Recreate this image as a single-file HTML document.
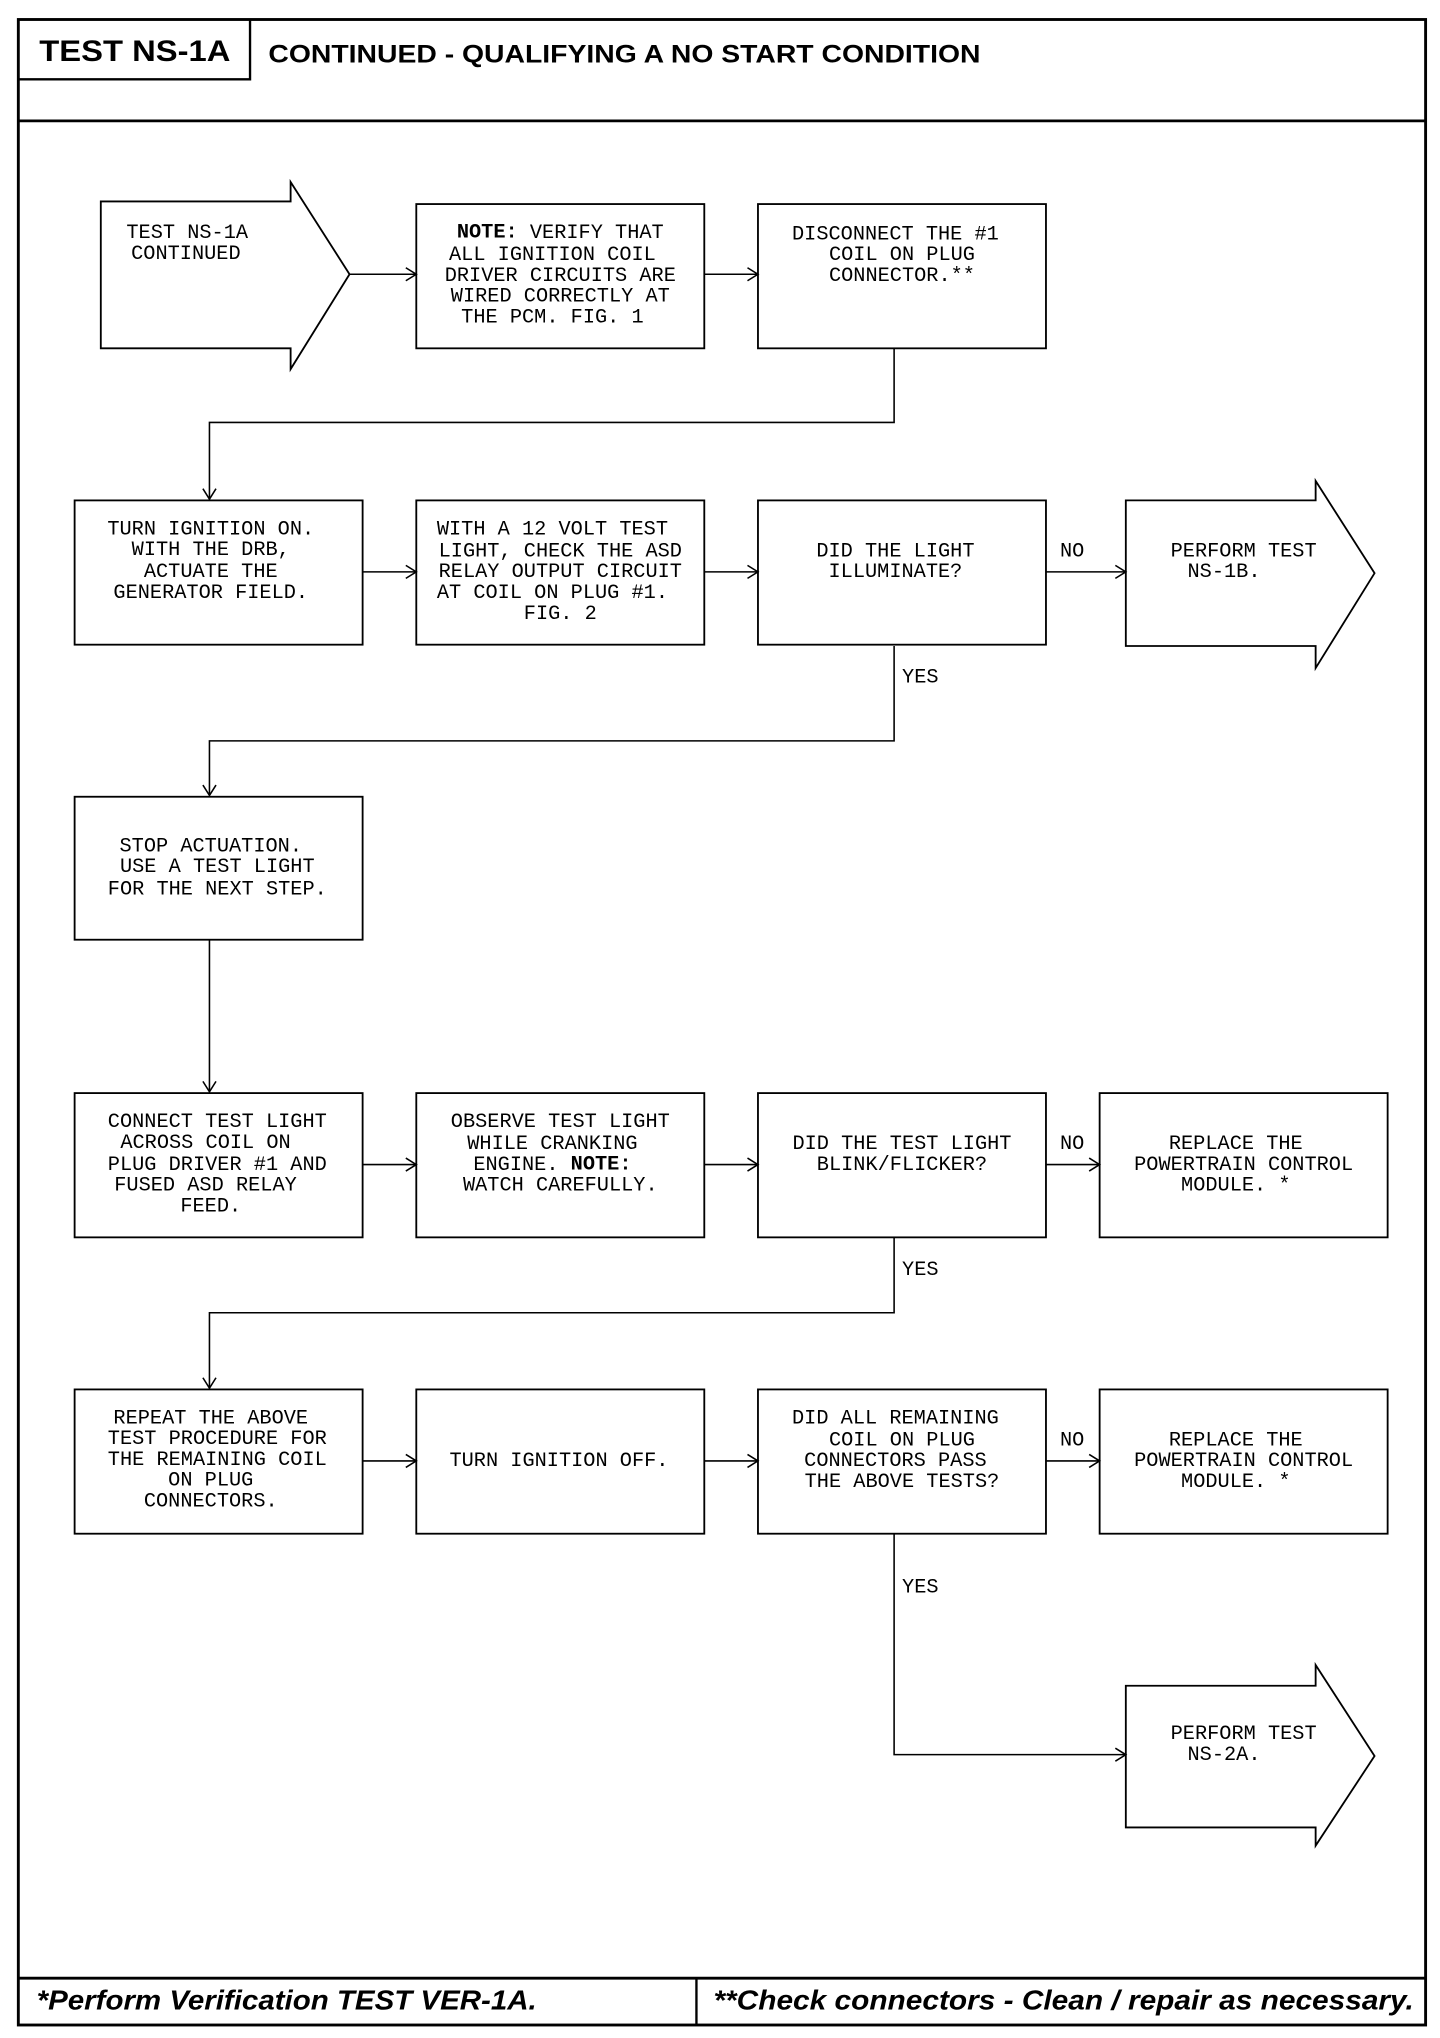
<!DOCTYPE html>
<html><head><meta charset="utf-8"><style>
html,body{margin:0;padding:0;background:#fff;}
svg{display:block;}
.t{font-family:"Liberation Mono","DejaVu Sans Mono",monospace;font-size:15.5px;fill:#000;text-anchor:middle;dominant-baseline:middle;}
.b{fill:none;stroke:#000;stroke-width:1.4;}
.l{fill:none;stroke:#000;stroke-width:1.2;}
</style></head><body>
<svg width="1440" height="2038" viewBox="0 0 1100 1568" preserveAspectRatio="none" xmlns="http://www.w3.org/2000/svg">
<!-- frame -->
<rect x="14" y="15" width="1075" height="1543" fill="none" stroke="#000" stroke-width="2.2"/>
<line x1="14" y1="93" x2="1089" y2="93" stroke="#000" stroke-width="2.2"/>
<polyline points="14,61 191,61 191,15" fill="none" stroke="#000" stroke-width="1.8"/>
<text x="30" y="47" font-family="Liberation Sans,sans-serif" font-weight="bold" font-size="23" textLength="146" lengthAdjust="spacingAndGlyphs">TEST NS-1A</text>
<text x="205" y="48" font-family="Liberation Sans,sans-serif" font-weight="bold" font-size="19" textLength="544" lengthAdjust="spacingAndGlyphs">CONTINUED - QUALIFYING A NO START CONDITION</text>
<line x1="14" y1="1522" x2="1089" y2="1522" stroke="#000" stroke-width="2.2"/>
<line x1="532" y1="1522" x2="532" y2="1558" stroke="#000" stroke-width="1.8"/>
<text x="28" y="1546" font-family="Liberation Sans,sans-serif" font-weight="bold" font-style="italic" font-size="21" textLength="382" lengthAdjust="spacingAndGlyphs">*Perform Verification TEST VER-1A.</text>
<text x="545" y="1546" font-family="Liberation Sans,sans-serif" font-weight="bold" font-style="italic" font-size="21" textLength="535" lengthAdjust="spacingAndGlyphs">**Check connectors - Clean / repair as necessary.</text>

<!-- row 1 -->
<polygon class="b" points="77,155 222,155 222,140 267,211 222,284 222,268 77,268"/>
<text class="t" x="143" y="179">TEST NS-1A</text>
<text class="t" x="142" y="195">CONTINUED</text>
<rect class="b" x="318" y="157" width="220" height="111"/>
<text class="t" x="428" y="179"><tspan font-weight="bold">NOTE:</tspan> VERIFY THAT</text>
<text class="t" x="422" y="196">ALL IGNITION COIL</text>
<text class="t" x="428" y="212">DRIVER CIRCUITS ARE</text>
<text class="t" x="428" y="228">WIRED CORRECTLY AT</text>
<text class="t" x="422" y="244">THE PCM. FIG. 1</text>
<rect class="b" x="579" y="157" width="220" height="111"/>
<text class="t" x="684" y="180">DISCONNECT THE #1</text>
<text class="t" x="689" y="196">COIL ON PLUG</text>
<text class="t" x="689" y="212">CONNECTOR.**</text>
<line class="l" x1="267" y1="211" x2="318" y2="211"/><polyline class="l" points="310,206 318,211 310,216"/>
<line class="l" x1="538" y1="211" x2="579" y2="211"/><polyline class="l" points="571,206 579,211 571,216"/>
<polyline class="l" points="683,268 683,325 160,325 160,384"/><polyline class="l" points="155,376 160,384 165,376"/>

<!-- row 2 -->
<rect class="b" x="57" y="385" width="220" height="111"/>
<text class="t" x="161" y="407">TURN IGNITION ON.</text>
<text class="t" x="161" y="423">WITH THE DRB,</text>
<text class="t" x="161" y="440">ACTUATE THE</text>
<text class="t" x="161" y="456">GENERATOR FIELD.</text>
<rect class="b" x="318" y="385" width="220" height="111"/>
<text class="t" x="422" y="407">WITH A 12 VOLT TEST</text>
<text class="t" x="428" y="424">LIGHT, CHECK THE ASD</text>
<text class="t" x="428" y="440">RELAY OUTPUT CIRCUIT</text>
<text class="t" x="422" y="456">AT COIL ON PLUG #1.</text>
<text class="t" x="428" y="472">FIG. 2</text>
<rect class="b" x="579" y="385" width="220" height="111"/>
<text class="t" x="684" y="424">DID THE LIGHT</text>
<text class="t" x="684" y="440">ILLUMINATE?</text>
<polygon class="b" points="860,385 1005,385 1005,370 1050,441 1005,514 1005,497 860,497"/>
<text class="t" x="950" y="424">PERFORM TEST</text>
<text class="t" x="935" y="440">NS-1B.</text>
<line class="l" x1="277" y1="440" x2="318" y2="440"/><polyline class="l" points="310,435 318,440 310,445"/>
<line class="l" x1="538" y1="440" x2="579" y2="440"/><polyline class="l" points="571,435 579,440 571,445"/>
<line class="l" x1="799" y1="440" x2="860" y2="440"/><polyline class="l" points="852,435 860,440 852,445"/>
<text class="t" x="819" y="424">NO</text>
<text class="t" x="703" y="521">YES</text>
<polyline class="l" points="683,497 683,570 160,570 160,612"/><polyline class="l" points="155,604 160,612 165,604"/>

<!-- row 3 -->
<rect class="b" x="57" y="613" width="220" height="110"/>
<text class="t" x="161" y="651">STOP ACTUATION.</text>
<text class="t" x="166" y="667">USE A TEST LIGHT</text>
<text class="t" x="166" y="684">FOR THE NEXT STEP.</text>
<line class="l" x1="160" y1="723" x2="160" y2="840"/><polyline class="l" points="155,832 160,840 165,832"/>

<!-- row 4 -->
<rect class="b" x="57" y="841" width="220" height="111"/>
<text class="t" x="166" y="863">CONNECT TEST LIGHT</text>
<text class="t" x="157" y="879">ACROSS COIL ON</text>
<text class="t" x="166" y="896">PLUG DRIVER #1 AND</text>
<text class="t" x="157" y="912">FUSED ASD RELAY</text>
<text class="t" x="161" y="928">FEED.</text>
<rect class="b" x="318" y="841" width="220" height="111"/>
<text class="t" x="428" y="863">OBSERVE TEST LIGHT</text>
<text class="t" x="422" y="880">WHILE CRANKING</text>
<text class="t" x="422" y="896">ENGINE. <tspan font-weight="bold">NOTE:</tspan></text>
<text class="t" x="428" y="912">WATCH CAREFULLY.</text>
<rect class="b" x="579" y="841" width="220" height="111"/>
<text class="t" x="689" y="880">DID THE TEST LIGHT</text>
<text class="t" x="689" y="896">BLINK/FLICKER?</text>
<rect class="b" x="840" y="841" width="220" height="111"/>
<text class="t" x="944" y="880">REPLACE THE</text>
<text class="t" x="950" y="896">POWERTRAIN CONTROL</text>
<text class="t" x="944" y="912">MODULE. *</text>
<line class="l" x1="277" y1="896" x2="318" y2="896"/><polyline class="l" points="310,891 318,896 310,901"/>
<line class="l" x1="538" y1="896" x2="579" y2="896"/><polyline class="l" points="571,891 579,896 571,901"/>
<line class="l" x1="799" y1="896" x2="840" y2="896"/><polyline class="l" points="832,891 840,896 832,901"/>
<text class="t" x="819" y="880">NO</text>
<text class="t" x="703" y="977">YES</text>
<polyline class="l" points="683,952 683,1010 160,1010 160,1068"/><polyline class="l" points="155,1060 160,1068 165,1060"/>

<!-- row 5 -->
<rect class="b" x="57" y="1069" width="220" height="111"/>
<text class="t" x="161" y="1091">REPEAT THE ABOVE</text>
<text class="t" x="166" y="1107">TEST PROCEDURE FOR</text>
<text class="t" x="166" y="1123">THE REMAINING COIL</text>
<text class="t" x="161" y="1139">ON PLUG</text>
<text class="t" x="161" y="1155">CONNECTORS.</text>
<rect class="b" x="318" y="1069" width="220" height="111"/>
<text class="t" x="427" y="1124">TURN IGNITION OFF.</text>
<rect class="b" x="579" y="1069" width="220" height="111"/>
<text class="t" x="684" y="1091">DID ALL REMAINING</text>
<text class="t" x="689" y="1108">COIL ON PLUG</text>
<text class="t" x="684" y="1124">CONNECTORS PASS</text>
<text class="t" x="689" y="1140">THE ABOVE TESTS?</text>
<rect class="b" x="840" y="1069" width="220" height="111"/>
<text class="t" x="944" y="1108">REPLACE THE</text>
<text class="t" x="950" y="1124">POWERTRAIN CONTROL</text>
<text class="t" x="944" y="1140">MODULE. *</text>
<line class="l" x1="277" y1="1124" x2="318" y2="1124"/><polyline class="l" points="310,1119 318,1124 310,1129"/>
<line class="l" x1="538" y1="1124" x2="579" y2="1124"/><polyline class="l" points="571,1119 579,1124 571,1129"/>
<line class="l" x1="799" y1="1124" x2="840" y2="1124"/><polyline class="l" points="832,1119 840,1124 832,1129"/>
<text class="t" x="819" y="1108">NO</text>
<text class="t" x="703" y="1221">YES</text>
<polyline class="l" points="683,1180 683,1350 860,1350"/><polyline class="l" points="852,1345 860,1350 852,1355"/>
<polygon class="b" points="860,1297 1005,1297 1005,1281 1050,1351 1005,1420 1005,1406 860,1406"/>
<text class="t" x="950" y="1334">PERFORM TEST</text>
<text class="t" x="935" y="1350">NS-2A.</text>
</svg>
</body></html>
